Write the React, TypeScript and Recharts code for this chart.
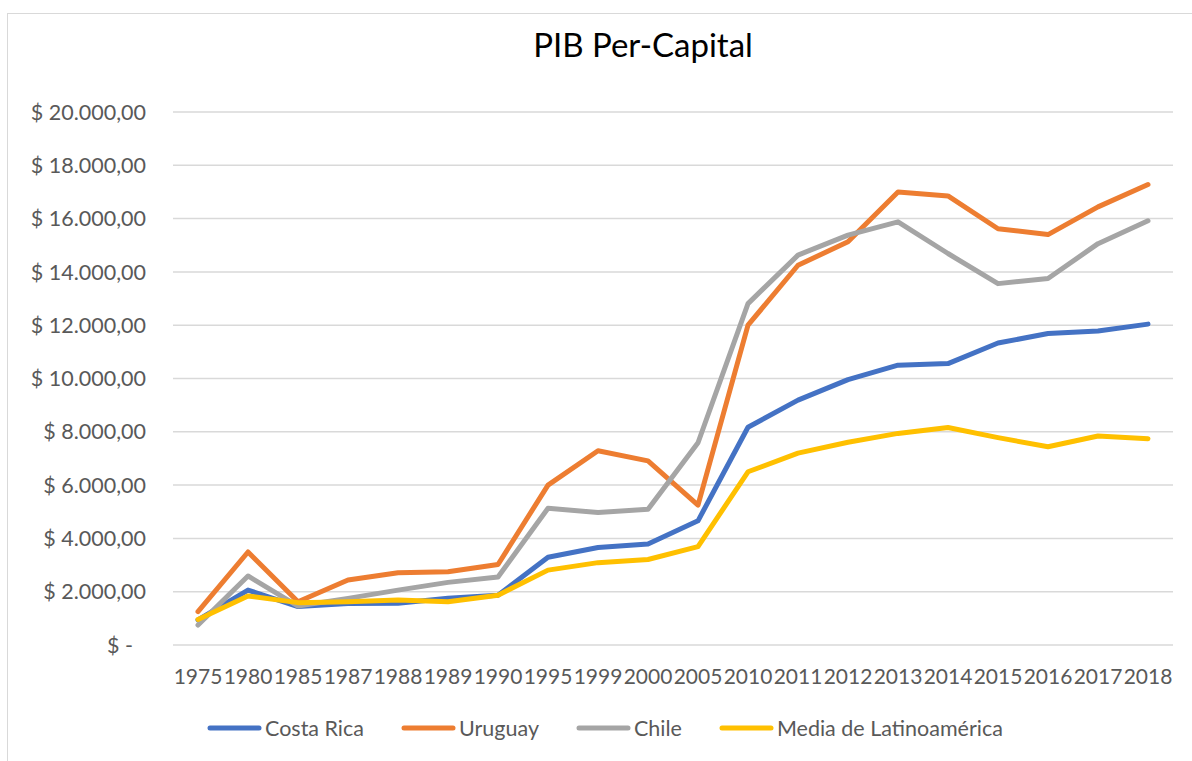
import React from 'react'
import { LineChart, Line, CartesianGrid, XAxis, YAxis } from 'recharts'

const years = ['1975', '1980', '1985', '1987', '1988', '1989', '1990', '1995', '1999', '2000', '2005', '2010', '2011', '2012', '2013', '2014', '2015', '2016', '2017', '2018']
const costaRica = [940, 2060, 1440, 1560, 1570, 1750, 1870, 3290, 3660, 3790, 4660, 8170, 9190, 9960, 10500, 10560, 11330, 11690, 11780, 12040]
const uruguay = [1250, 3490, 1620, 2440, 2710, 2750, 3020, 6000, 7290, 6910, 5250, 12000, 14250, 15130, 17000, 16850, 15620, 15400, 16440, 17280]
const chile = [750, 2590, 1460, 1750, 2060, 2350, 2550, 5130, 4970, 5090, 7590, 12810, 14630, 15380, 15880, 14690, 13560, 13750, 15060, 15920]
const latam = [960, 1840, 1590, 1620, 1690, 1620, 1870, 2810, 3090, 3210, 3690, 6500, 7200, 7610, 7940, 8160, 7780, 7440, 7840, 7740]
const yTicks = [0, 2000, 4000, 6000, 8000, 10000, 12000, 14000, 16000, 18000, 20000]

const series = [
  { key: 'costaRica', name: 'Costa Rica', color: '#4472C4' },
  { key: 'uruguay', name: 'Uruguay', color: '#ED7D31' },
  { key: 'chile', name: 'Chile', color: '#A5A5A5' },
  { key: 'latam', name: 'Media de Latinoamérica', color: '#FFC000' },
]

const data = years.map((year, i) => ({
  year,
  costaRica: costaRica[i],
  uruguay: uruguay[i],
  chile: chile[i],
  latam: latam[i],
}))

const font = 'Lato, sans-serif'
const textColor = '#595959'

function money(v: number) {
  if (v === 0) return '$ -'
  const s = v.toString().replace(/\B(?=(\d{3})+(?!\d))/g, '.')
  return '$ ' + s + ',00'
}

function YTick({ x, y, payload }: any) {
  const zero = payload.value === 0
  return (
    <text x={zero ? x - 13 : x} y={y} dy="0.355em" textAnchor="end" fill={textColor} fontSize={21.5} fontFamily={font}>
      {money(payload.value)}
    </text>
  )
}

export default function App() {
  return (
    <div style={{ position: 'fixed', left: 0, top: 0, width: 1192, height: 761, background: '#fff', overflow: 'hidden' }}>
      <div style={{ position: 'absolute', left: 7, top: 13, width: 1200, height: 800, borderLeft: '1px solid #d9d9d9', borderTop: '1px solid #d9d9d9' }} />
      <div style={{ position: 'absolute', left: 443, top: 26, width: 400, textAlign: 'center', fontFamily: font, fontSize: 33, lineHeight: '36px', color: '#000' }}>
        PIB Per-Capital
      </div>
      <div style={{ position: 'absolute', left: 0, top: 0 }}>
        <LineChart width={1192} height={761} data={data} margin={{ top: 112, right: 19, bottom: 76, left: 13 }}>
          <CartesianGrid vertical={false} stroke="#d9d9d9" strokeWidth={1.5} />
          <XAxis
            dataKey="year"
            interval={0}
            axisLine={false}
            tickLine={false}
            tickSize={0}
            tickMargin={24}
            height={40}
            padding={{ left: 25, right: 25 }}
            tick={{ fill: textColor, fontSize: 21, fontFamily: font }}
          />
          <YAxis
            width={160}
            domain={[0, 20000]}
            ticks={yTicks}
            interval={0}
            axisLine={false}
            tickLine={false}
            tickSize={0}
            tickMargin={27}
            tick={<YTick />}
          />
          {series.map((s) => (
            <Line
              key={s.key}
              type="linear"
              dataKey={s.key}
              name={s.name}
              stroke={s.color}
              strokeWidth={5}
              strokeLinejoin="round"
              strokeLinecap="round"
              dot={false}
              activeDot={false}
              isAnimationActive={false}
            />
          ))}
        </LineChart>
      </div>
      <div style={{ position: 'absolute', left: 207, top: 714, display: 'flex', alignItems: 'center', fontFamily: font, fontSize: 21.5, color: textColor, lineHeight: '28px' }}>
        {series.map((s) => (
          <div key={s.key} style={{ display: 'flex', alignItems: 'center', marginRight: 37 }}>
            <svg width={55} height={10} style={{ marginRight: 3 }}>
              <line x1={3} y1={5} x2={52} y2={5} stroke={s.color} strokeWidth={5} strokeLinecap="round" />
            </svg>
            <span>{s.name}</span>
          </div>
        ))}
      </div>
    </div>
  )
}
